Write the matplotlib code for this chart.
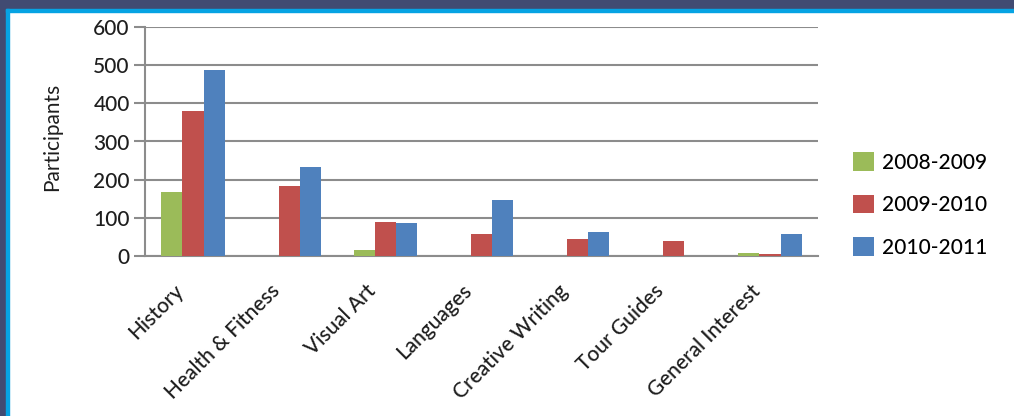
import matplotlib
matplotlib.use("Agg")
import matplotlib.pyplot as plt
from matplotlib.patches import Rectangle
from matplotlib.transforms import ScaledTranslation
import numpy as np

categories = ["History", "Health & Fitness", "Visual Art", "Languages",
              "Creative Writing", "Tour Guides", "General Interest"]
series_names = ["2008-2009", "2009-2010", "2010-2011"]
y2008 = [168, 0, 15, 0, 0, 0, 7]
y2009 = [380, 183, 89, 58, 44, 38, 6]
y2010 = [488, 232, 86, 148, 64, 0, 57]
yticks = [0, 100, 200, 300, 400, 500, 600]

colors = ["#9bbb59", "#c0504d", "#4f81bd"]

plt.rcParams["font.family"] = ["Lato", "DejaVu Sans"]
plt.rcParams["font.weight"] = "medium"

W, H = 1014, 416
fig = plt.figure(figsize=(W / 100, H / 100), dpi=100, facecolor="white")

# frame: navy border top/left with a thin cyan line inside
navy = "#414b72"
cyan = "#06a3e3"
fig.patches.append(Rectangle((0, 1 - 9 / H), 1, 9 / H, transform=fig.transFigure,
                             color=navy, zorder=0))
fig.patches.append(Rectangle((0, 0), 6 / W, 1, transform=fig.transFigure,
                             color=navy, zorder=0))
fig.patches.append(Rectangle((6 / W, 1 - 12 / H), 1, 3 / H, transform=fig.transFigure,
                             color=cyan, zorder=0))
fig.patches.append(Rectangle((6 / W, 0), 3 / W, 1 - 9 / H, transform=fig.transFigure,
                             color=cyan, zorder=0))

ax = fig.add_axes([145 / W, 160 / H, 673 / W, 229 / H])
ax.set_facecolor("none")

x = np.arange(len(categories))
bw = 0.22
for i, (vals, name) in enumerate(zip([y2008, y2009, y2010], series_names)):
    ax.bar(x + (i - 1) * bw, vals, width=bw, color=colors[i], label=name, zorder=3)

ax.set_xlim(-0.5, len(categories) - 0.5)
ax.set_ylim(0, 600)
ax.set_yticks(yticks)
ax.yaxis.grid(True, color="#8c8c8c", linewidth=1.5, zorder=0)
ax.set_axisbelow(True)

for s in ["top", "right"]:
    ax.spines[s].set_visible(False)
for s in ["left", "bottom"]:
    ax.spines[s].set_color("#8c8c8c")
    ax.spines[s].set_linewidth(1.5)

txt = "#1e1e1e"
ax.tick_params(axis="y", length=8, width=1.5, color="#8c8c8c", labelsize=15,
               labelcolor=txt, pad=3)
ax.tick_params(axis="x", length=0, labelsize=15, labelcolor=txt, pad=2)
ax.set_xticks(x)
ax.set_xticklabels(categories, rotation=45, ha="right", rotation_mode="anchor")
shift = ScaledTranslation(-0.20, -0.22, fig.dpi_scale_trans)
for lab in ax.get_xticklabels():
    lab.set_transform(lab.get_transform() + shift)

ax.set_ylabel("Participants", fontsize=15, color=txt)
ax.yaxis.set_label_coords(-0.123, 0.52)

ax.legend(loc="center left", bbox_to_anchor=(853 / W, 211 / H),
          bbox_transform=fig.transFigure, frameon=False, borderpad=0,
          borderaxespad=0, fontsize=15, handlelength=1.0, handleheight=1.0,
          labelspacing=1.05, handletextpad=0.4)

fig.savefig("out.png", dpi=100, facecolor="white")
